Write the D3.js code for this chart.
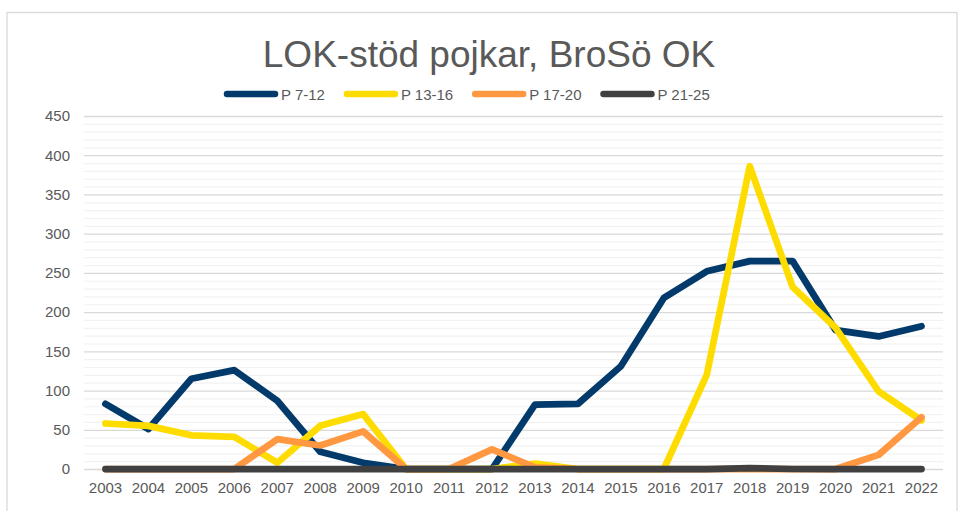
<!DOCTYPE html>
<html>
<head>
<meta charset="utf-8">
<script src="https://cdn.jsdelivr.net/npm/d3@7"></script>
<style>
  body { margin: 0; background: #fff; }
  svg { display: block; font-family: 'Liberation Sans', Arial, sans-serif; }
</style>
</head>
<body>
<div class="svg-container"></div>
<script>
const years = ['2003', '2004', '2005', '2006', '2007', '2008', '2009', '2010', '2011', '2012',
  '2013', '2014', '2015', '2016', '2017', '2018', '2019', '2020', '2021', '2022']

const seriesNames = ['P 7-12', 'P 13-16', 'P 17-20', 'P 21-25']

const p7to12 = [83, 51, 115, 126, 87, 22, 8, 0, 0, 0, 82, 83, 131, 218, 252, 265, 265, 177, 169, 182]
const p13to16 = [58, 55, 43, 41, 8, 55, 70, 0, 0, 0, 7, 0, 0, 0, 120, 386, 232, 180, 99, 62]
const p17to20 = [0, 0, 0, 0, 38, 30, 48, 0, 0, 25, 2, 0, 0, 0, 0, 0, 0, 0, 18, 66]
const p21to25 = [0, 0, 0, 0, 0, 0, 0, 0, 0, 0, 0, 0, 0, 0, 0, 1, 0, 0, 0, 0]

const yTicks = [0, 50, 100, 150, 200, 250, 300, 350, 400, 450]

const colors = ['#023b6b', '#ffdc00', '#ff9841', '#404040']

const width = 960
const height = 511
const plot = { left: 84, right: 943, top: 116, bottom: 469 }

const svg = d3
  .select('.svg-container')
  .append('svg')
  .attr('width', width)
  .attr('height', height)

// chart frame
svg
  .append('rect')
  .attr('x', 7)
  .attr('y', 12.5)
  .attr('width', 950)
  .attr('height', 520)
  .attr('fill', 'none')
  .attr('stroke', '#d9d9d9')
  .attr('stroke-width', 1.3)

const xScale = d3.scaleBand(years, [plot.left, plot.right])
const yScale = d3.scaleLinear([0, 450], [plot.bottom, plot.top])
const xPos = (d) => xScale(d) + xScale.bandwidth() / 2

// minor grid
svg
  .append('g')
  .attr('transform', `translate(${plot.left}, 0)`)
  .call(d3.axisLeft(yScale)
    .tickValues(d3.range(0, 451, 10).filter((v) => v % 50 !== 0))
    .tickSize(-(plot.right - plot.left))
    .tickFormat(''))
  .call((g) => g.select('.domain').remove())
  .call((g) => g.selectAll('line').attr('stroke', '#f2f2f2').attr('stroke-width', 1.2))

// major grid + labels
svg
  .append('g')
  .attr('transform', `translate(${plot.left}, 0)`)
  .call(d3.axisLeft(yScale)
    .tickValues(yTicks)
    .tickSize(-(plot.right - plot.left))
    .tickPadding(14))
  .call((g) => g.select('.domain').remove())
  .call((g) => g.selectAll('line').attr('stroke', '#d9d9d9').attr('stroke-width', 1.3))
  .call((g) => g.selectAll('text')
    .attr('fill', '#595959')
    .style('font-size', '15px')
    .attr('x', 70 - plot.left))

svg
  .append('g')
  .attr('transform', `translate(0, ${plot.bottom})`)
  .call(d3.axisBottom(xScale).tickSize(0).tickPadding(13))
  .call((g) => g.select('.domain').remove())
  .call((g) => g.selectAll('text')
    .attr('fill', '#595959')
    .style('font-size', '15px'))

// title
svg
  .append('text')
  .attr('x', 489)
  .attr('y', 66.5)
  .attr('text-anchor', 'middle')
  .attr('fill', '#595959')
  .style('font-size', '37px')
  .text('LOK-stöd pojkar, BroSö OK')

const allSeries = [p7to12, p13to16, p17to20, p21to25]

const line = d3
  .line()
  .x((d, i) => xPos(years[i]))
  .y((d) => yScale(d))

svg
  .append('g')
  .selectAll('path')
  .data(allSeries)
  .join('path')
  .attr('d', (d) => line(d))
  .attr('fill', 'none')
  .attr('stroke', (d, i) => colors[i])
  .attr('stroke-width', 6.75)
  .attr('stroke-linejoin', 'round')
  .attr('stroke-linecap', 'round')

// legend
const legend = svg.append('g').attr('transform', 'translate(0, 94)')
let lx = 224
seriesNames.forEach((name, i) => {
  legend
    .append('line')
    .attr('x1', lx + 3)
    .attr('x2', lx + 51)
    .attr('stroke', colors[i])
    .attr('stroke-width', 6.5)
    .attr('stroke-linecap', 'round')
  const label = legend
    .append('text')
    .attr('x', lx + 57)
    .attr('y', 5.5)
    .attr('fill', '#595959')
    .style('font-size', '15px')
    .text(name)
  lx += 57 + label.node().getComputedTextLength() + 19
})
</script>
</body>
</html>
